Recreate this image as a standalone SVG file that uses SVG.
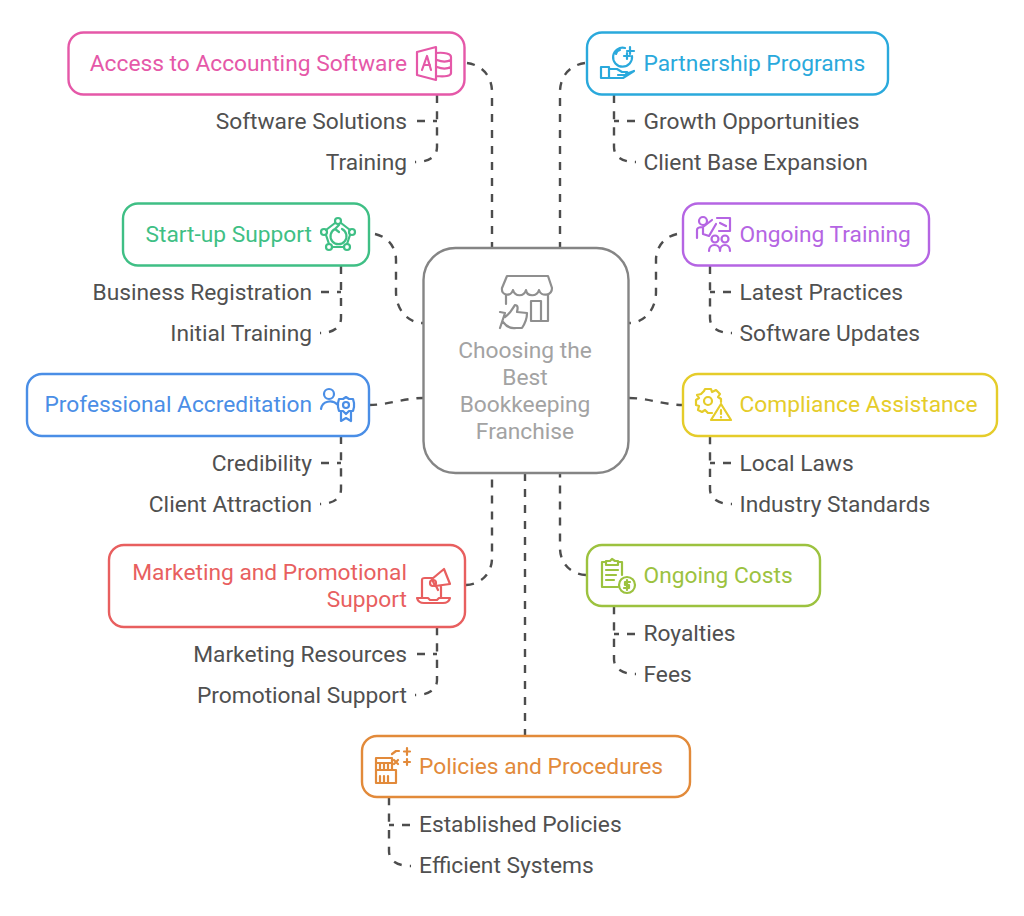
<svg xmlns="http://www.w3.org/2000/svg" width="1024" height="916" viewBox="0 0 1024 916">
<style>
text{font-family:Roboto,"Liberation Sans",sans-serif;font-size:22.75px}
.s{fill:#505050}
.c{fill:none;stroke:#4d4d4d;stroke-width:2.4;stroke-dasharray:8 8}
.b{fill:#fff;stroke-width:2.4}
.i{fill:none;stroke-width:2.2;stroke-linecap:round;stroke-linejoin:round}
</style>
<rect width="1024" height="916" fill="#fff"/>
<g id="connectors">
<path class="c" d="M467 63C482 65 492 76 492 92V248"/>
<path class="c" d="M585 63C570 65 560 76 560 92V248"/>
<path class="c" d="M375 234C388 237 396 247 396 260V292C396 310 408 323 423 323"/>
<path class="c" d="M677 234C664 237 656 247 656 260V292C656 310 644 323 629 323"/>
<path class="c" d="M369 405C388 405 404 398 423 398"/>
<path class="c" d="M629 398C648 398 664 405 683 405"/>
<path class="c" d="M466 585C482 584 492 573 492 558V473"/>
<path class="c" d="M586 575C570 574 560 563 560 548V473"/>
<path class="c" d="M525 473V736"/>
<path class="c" pathLength="81" d="M437 95V147C437 156 430 162 415 162"/><path class="c" d="M417 121H437"/>
<path class="c" pathLength="81" d="M614 95V147C614 156 621 162 636 162"/><path class="c" d="M635 121H614"/>
<path class="c" pathLength="81" d="M341 266V318C341 327 334 333 320 333"/><path class="c" d="M321 292H341"/>
<path class="c" pathLength="81" d="M710 266V318C710 327 717 333 732 333"/><path class="c" d="M731 292H710"/>
<path class="c" pathLength="81" d="M341 436V489C341 498 334 504 320 504"/><path class="c" d="M321 463H341"/>
<path class="c" pathLength="81" d="M710 436V489C710 498 717 504 732 504"/><path class="c" d="M731 463H710"/>
<path class="c" pathLength="81" d="M437 627V680C437 689 430 695 415 695"/><path class="c" d="M417 654H437"/>
<path class="c" pathLength="81" d="M614 606V659C614 668 621 674 636 674"/><path class="c" d="M635 634H614"/>
<path class="c" pathLength="81" d="M389 797V851C389 860 396 866 411 866"/><path class="c" d="M410 825H389"/>
</g>
<g id="center">
<rect class="b" x="423.5" y="248" width="205" height="225" rx="32" stroke="#858585"/>
<g class="i" stroke="#8f8f8f">
<path d="M507 276H548L552 288C552 296 541 297 539 290C537 297 527 297 526 290C524 297 515 297 513 290C511 297 501 296 502 288Z"/>
<path d="M506 295V304M548 295V321H531V301H541V321"/>
<path d="M500 312L505 313L500 328M503 322C506 326 510 329 516 328L522 328C526 322 527 318 527 313L517 312C518 308 518 305 515 305C512 309 511 313 505 317"/>
</g>
<text x="525" y="358" text-anchor="middle" fill="#a3a3a3">Choosing the</text>
<text x="525" y="385" text-anchor="middle" fill="#a3a3a3">Best</text>
<text x="525" y="412" text-anchor="middle" fill="#a3a3a3">Bookkeeping</text>
<text x="525" y="439" text-anchor="middle" fill="#a3a3a3">Franchise</text>
</g>
<g id="n-accounting">
<rect class="b" x="68.5" y="32.5" width="396" height="62" rx="15" stroke="#e558a8"/>
<text x="407" y="71" text-anchor="end" fill="#e558a8">Access to Accounting Software</text>
<g class="i" stroke="#e558a8"><path d="M417 52L436 47V80L417 75ZM422 70L427 56L431 70M424 65H430M436 53C445 52 451 54 451 57V73C451 76 445 77 436 76M437 60C442 62 447 62 451 60M437 67C442 69 447 69 451 67"/></g>
<text class="s" x="407" y="129" text-anchor="end">Software Solutions</text>
<text class="s" x="407" y="170" text-anchor="end">Training</text>
</g>
<g id="n-partnership">
<rect class="b" x="587" y="32.5" width="301" height="62" rx="15" stroke="#2aa9dc"/>
<text x="643.5" y="71" fill="#2aa9dc">Partnership Programs</text>
<g class="i" stroke="#2aa9dc"><path d="M625 48A9.5 9.5 0 1 0 632 56M630 47V54M627 51H634M627 53V59M624 56H630M616 54A5 5 0 0 1 620 50"/><path d="M601 67H609V78H601ZM609 69H617L622 72H627C629 73 628 75 626 75H618M626 74L634 71L623 78H609"/></g>
<text class="s" x="643.5" y="129">Growth Opportunities</text>
<text class="s" x="643.5" y="170">Client Base Expansion</text>
</g>
<g id="n-startup">
<rect class="b" x="123" y="203.5" width="246" height="62" rx="15" stroke="#3fbf85"/>
<text x="312" y="242" text-anchor="end" fill="#3fbf85">Start-up Support</text>
<g class="i" stroke="#3fbf85"><circle cx="338" cy="221" r="3"/><circle cx="324" cy="232" r="3"/><circle cx="352" cy="232" r="3"/><circle cx="329" cy="247" r="3"/><circle cx="347" cy="247" r="3"/><path d="M335 223L326 230M341 223L350 230M326 235L329 244M350 235L347 244M332 247H344M335 229A8 8 0 1 0 342 229M339 225L335 229L339 232"/></g>
<text class="s" x="312" y="300" text-anchor="end">Business Registration</text>
<text class="s" x="312" y="341" text-anchor="end">Initial Training</text>
</g>
<g id="n-training">
<rect class="b" x="683" y="203.5" width="246" height="62" rx="15" stroke="#b565e3"/>
<text x="739.5" y="242" fill="#b565e3">Ongoing Training</text>
<g class="i" stroke="#b565e3"><circle cx="703" cy="221" r="4"/><path d="M697 238V230C697 227 700 227 703 227L712 220M703 228V234L709 236L716 224M717 218H730V231H719M720 223L726 226"/><circle cx="715" cy="239" r="3.5"/><circle cx="725" cy="239" r="3.5"/><path d="M709 251C709 243 720 243 720 251M720 251C720 243 730 243 730 251"/></g>
<text class="s" x="739.5" y="300">Latest Practices</text>
<text class="s" x="739.5" y="341">Software Updates</text>
</g>
<g id="n-accreditation">
<rect class="b" x="27" y="374" width="342" height="62" rx="15" stroke="#4a8ee6"/>
<text x="312" y="412" text-anchor="end" fill="#4a8ee6">Professional Accreditation</text>
<g class="i" stroke="#4a8ee6"><circle cx="329" cy="394" r="5"/><path d="M321 409C322 401 332 399 338 405"/><path d="M346 397L349 399L353 399L354 403L354 407L353 411L349 411L346 414L343 411L339 411L338 407L338 403L339 399L343 399Z"/><circle cx="346" cy="405" r="3"/><path d="M341 412V421L346 418L351 421V412"/></g>
<text class="s" x="312" y="471" text-anchor="end">Credibility</text>
<text class="s" x="312" y="512" text-anchor="end">Client Attraction</text>
</g>
<g id="n-compliance">
<rect class="b" x="683" y="374" width="314" height="62" rx="15" stroke="#e5cc2a"/>
<text x="739.5" y="412" fill="#e5cc2a">Compliance Assistance</text>
<g class="i" stroke="#e5cc2a"><path d="M704 391L705 389H711L712 392L716 390L720 394L718 397L721 399V402M697 395L701 394L704 391M697 395L699 398L696 400V405L699 406L698 410L702 412L705 410L708 413H712"/><circle cx="708" cy="401" r="4"/><path d="M721 404L731 420H711ZM721 410V414M721 417V417.5"/></g>
<text class="s" x="739.5" y="471">Local Laws</text>
<text class="s" x="739.5" y="512">Industry Standards</text>
</g>
<g id="n-marketing">
<rect class="b" x="109" y="545" width="356" height="82" rx="15" stroke="#e85f5f"/>
<text x="407" y="580" text-anchor="end" fill="#e85f5f">Marketing and Promotional</text>
<text x="407" y="607" text-anchor="end" fill="#e85f5f">Support</text>
<g class="i" stroke="#e85f5f"><path d="M422 598V580C422 578 423 578 425 578H433M441 586V598M417 598H428L430 600H437L439 598H450C449 602 446 603 443 603H424C421 603 418 602 417 598ZM432 579L444 569L450 584L435 586Z"/><circle cx="433" cy="583" r="3"/><path d="M436 586L438 590"/></g>
<text class="s" x="407" y="662" text-anchor="end">Marketing Resources</text>
<text class="s" x="407" y="703" text-anchor="end">Promotional Support</text>
</g>
<g id="n-costs">
<rect class="b" x="587" y="545" width="233" height="61" rx="15" stroke="#9cc23f"/>
<text x="643.5" y="583" fill="#9cc23f">Ongoing Costs</text>
<g class="i" stroke="#9cc23f"><path d="M606 562H602V587H618M622 575V562H618M606 561H610L612 559L615 561H618V565H606ZM606 570H618M606 575H616M606 580H614"/><circle cx="627" cy="585" r="8"/><path d="M630 582H625V585H629V588H624M627 580V590"/></g>
<text class="s" x="643.5" y="641">Royalties</text>
<text class="s" x="643.5" y="682">Fees</text>
</g>
<g id="n-policies">
<rect class="b" x="362" y="736" width="328" height="61" rx="15" stroke="#e28a3a"/>
<text x="419" y="774" fill="#e28a3a">Policies and Procedures</text>
<g class="i" stroke="#e28a3a"><path d="M376 758H392V770M376 758V783H396V770H376M376 763H392M380 764V769M384 764V769M388 764V769M380 776V782M384 776V782M388 776V782M392 754L396 751H399M394 760L398 764M398 760L394 764M407 748V755M404 751.5H410M404 762H410M407 759V765"/></g>
<text class="s" x="419" y="832">Established Policies</text>
<text class="s" x="419" y="873">Efficient Systems</text>
</g>
</svg>
